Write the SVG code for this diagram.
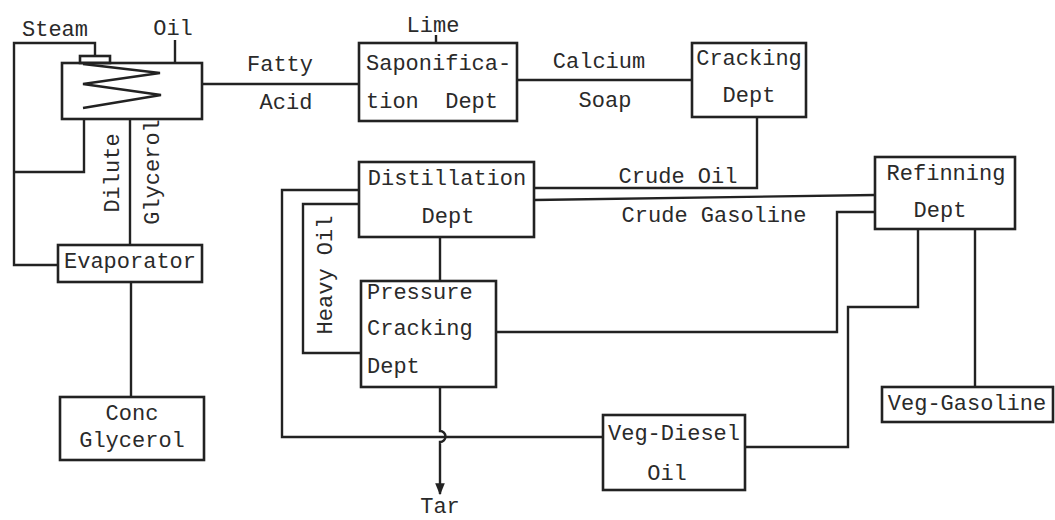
<svg xmlns="http://www.w3.org/2000/svg" width="1055" height="520" viewBox="0 0 1055 520">
<style>
.box{fill:none;stroke:#222;stroke-width:2.6}
.ln{fill:none;stroke:#222;stroke-width:2.4}
text{font-family:"Liberation Mono","Courier New",monospace;font-size:22px;fill:#2a2a2a;white-space:pre}
.m{text-anchor:middle}
</style>
<defs>
<marker id="arr" viewBox="0 0 10 10" refX="9" refY="5" markerWidth="5" markerHeight="5" orient="auto" markerUnits="strokeWidth">
<path d="M0,1 L10,5 L0,9 Z" fill="#222"/>
</marker>
</defs>
<rect width="1055" height="520" fill="#ffffff"/>
<g id="connectors">
<path class="ln" d="M95,56 V43 H14 V265 H58"/>
<path class="ln" d="M84,119 V172 H14"/>
<path class="ln" d="M175,40 V63"/>
<path class="ln" d="M202,84 H359"/>
<path class="ln" d="M436,35 V43"/>
<path class="ln" d="M517,80 H692"/>
<path class="ln" d="M757,117 V188 H534"/>
<path class="ln" d="M534,200 L875,195"/>
<path class="ln" d="M440,237 V281"/>
<path class="ln" d="M359,204 H303 V353 H361"/>
<path class="ln" d="M359,190 H282 V437 H603"/>
<path class="ln" d="M496,332 H837 V212 H875"/>
<path class="ln" d="M918,229 V307 H848 V447 H745"/>
<path class="ln" d="M975,229 V387"/>
<path class="ln" d="M130,119 V245"/>
<path class="ln" d="M131,282 V397"/>
<path class="ln" d="M440,387 V431 a5.5,5.5 0 0 1 0,11 V494" marker-end="url(#arr)"/>
<text x="280" y="71" class="m">Fatty</text>
<text x="286" y="109" class="m">Acid</text>
<text x="433" y="32" class="m">Lime</text>
<text x="599" y="68" class="m">Calcium</text>
<text x="605" y="107" class="m">Soap</text>
<text x="678" y="183" class="m">Crude Oil</text>
<text x="714" y="222" class="m">Crude Gasoline</text>
<text x="440" y="513" class="m">Tar</text>
<text class="m" transform="translate(119,173) rotate(-90)">Dilute</text>
<text class="m" transform="translate(159,172) rotate(-90)">Glycerol</text>
<text class="m" transform="translate(332,275) rotate(-90)">Heavy Oil</text>
</g>
<g id="oil-vessel">
<rect class="box" x="62" y="63" width="140" height="56"/>
<rect class="box" x="80" y="56" width="30" height="7"/>
<polyline class="ln" points="83,64 160,73 83,84 161,95 83,108"/>
<text x="55" y="36" class="m">Steam</text>
<text x="173" y="35" class="m">Oil</text>
</g>
<g id="saponification">
<rect class="box" x="359" y="43" width="158" height="78"/>
<text x="366" y="70">Saponifica-</text>
<text x="366" y="108">tion  Dept</text>
</g>
<g id="cracking">
<rect class="box" x="692" y="43" width="114" height="74"/>
<text x="749" y="65" class="m">Cracking</text>
<text x="749" y="102" class="m">Dept</text>
</g>
<g id="distillation">
<rect class="box" x="359" y="162" width="175" height="75"/>
<text x="447" y="185" class="m">Distillation</text>
<text x="448" y="223" class="m">Dept</text>
</g>
<g id="pressure-cracking">
<rect class="box" x="361" y="281" width="135" height="106"/>
<text x="367" y="299">Pressure</text>
<text x="367" y="335">Cracking</text>
<text x="367" y="373">Dept</text>
</g>
<g id="refinning">
<rect class="box" x="875" y="157" width="140" height="72"/>
<text x="946" y="180" class="m">Refinning</text>
<text x="940" y="217" class="m">Dept</text>
</g>
<g id="evaporator">
<rect class="box" x="58" y="245" width="144" height="37"/>
<text x="130" y="268" class="m">Evaporator</text>
</g>
<g id="conc-glycerol">
<rect class="box" x="60" y="397" width="144" height="63"/>
<text x="132" y="420" class="m">Conc</text>
<text x="132" y="447" class="m">Glycerol</text>
</g>
<g id="veg-diesel">
<rect class="box" x="603" y="415" width="142" height="75"/>
<text x="674" y="440" class="m">Veg-Diesel</text>
<text x="667" y="480" class="m">Oil</text>
</g>
<g id="veg-gasoline">
<rect class="box" x="882" y="387" width="171" height="35"/>
<text x="967" y="410" class="m">Veg-Gasoline</text>
</g>
</svg>
